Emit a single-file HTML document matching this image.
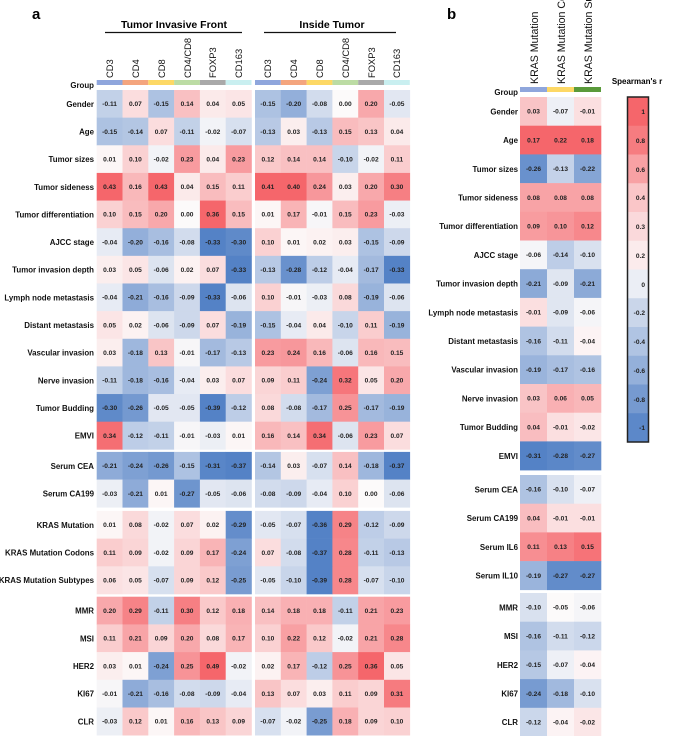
<!DOCTYPE html>
<html><head><meta charset="utf-8"><style>
body{margin:0;background:#fff}
svg{display:block;font-family:"Liberation Sans",Arial,sans-serif}
.v{font-size:6.6px;font-weight:bold;fill:#222;text-anchor:middle}
.lab{font-size:7.9px;font-weight:bold;fill:#111;text-anchor:end}
.hd{font-size:9.4px;fill:#111}
</style></head><body>
<svg id="s" width="689" height="736" viewBox="0 0 689 736">
<text x="32" y="19" style="font-size:15px;font-weight:bold">a</text>
<text x="447" y="19" style="font-size:15px;font-weight:bold">b</text>
<text x="174" y="28" style="font-size:10.5px;font-weight:bold;text-anchor:middle">Tumor Invasive Front</text>
<line x1="105" y1="32.5" x2="242" y2="32.5" stroke="#111" stroke-width="1.2"/>
<text x="332" y="28" style="font-size:10.5px;font-weight:bold;text-anchor:middle">Inside Tumor</text>
<line x1="264" y1="32.5" x2="396" y2="32.5" stroke="#111" stroke-width="1.2"/>
<g id="bars"></g>
<g class="hd">
<text transform="translate(113,78) rotate(-90)">CD3</text>
<text transform="translate(139,78) rotate(-90)">CD4</text>
<text transform="translate(165,78) rotate(-90)">CD8</text>
<text transform="translate(191,78) rotate(-90)">CD4/CD8</text>
<text transform="translate(216,78) rotate(-90)">FOXP3</text>
<text transform="translate(242,78) rotate(-90)">CD163</text>
<text transform="translate(271,78) rotate(-90)">CD3</text>
<text transform="translate(297,78) rotate(-90)">CD4</text>
<text transform="translate(323,78) rotate(-90)">CD8</text>
<text transform="translate(349,78) rotate(-90)">CD4/CD8</text>
<text transform="translate(375,78) rotate(-90)">FOXP3</text>
<text transform="translate(400,78) rotate(-90)">CD163</text>
<text transform="translate(538,84) rotate(-90)" style="font-size:10.6px">KRAS Mutation</text>
<text transform="translate(565,84) rotate(-90)" style="font-size:10.6px">KRAS Mutation Codons</text>
<text transform="translate(592,84) rotate(-90)" style="font-size:10.6px">KRAS Mutation Subtypes</text>
</g>
<text class="lab" x="94" y="88">Group</text>
<text class="lab" x="518" y="95">Group</text>
<text x="637" y="84" style="font-size:8px;font-weight:bold;text-anchor:middle">Spearman's r</text>
<g id="cells"></g>
<g id="A">
<g><text class="lab">Gender</text><text class="v">-0.11</text><text class="v">0.07</text><text class="v">-0.15</text><text class="v">0.14</text><text class="v">0.04</text><text class="v">0.05</text><text class="v">-0.15</text><text class="v">-0.20</text><text class="v">-0.08</text><text class="v">0.00</text><text class="v">0.20</text><text class="v">-0.05</text></g>
<g><text class="lab">Age</text><text class="v">-0.15</text><text class="v">-0.14</text><text class="v">0.07</text><text class="v">-0.11</text><text class="v">-0.02</text><text class="v">-0.07</text><text class="v">-0.13</text><text class="v">0.03</text><text class="v">-0.13</text><text class="v">0.15</text><text class="v">0.13</text><text class="v">0.04</text></g>
<g><text class="lab">Tumor sizes</text><text class="v">0.01</text><text class="v">0.10</text><text class="v">-0.02</text><text class="v">0.23</text><text class="v">0.04</text><text class="v">0.23</text><text class="v">0.12</text><text class="v">0.14</text><text class="v">0.14</text><text class="v">-0.10</text><text class="v">-0.02</text><text class="v">0.11</text></g>
<g><text class="lab">Tumor sideness</text><text class="v">0.43</text><text class="v">0.16</text><text class="v">0.43</text><text class="v">0.04</text><text class="v">0.15</text><text class="v">0.11</text><text class="v">0.41</text><text class="v">0.40</text><text class="v">0.24</text><text class="v">0.03</text><text class="v">0.20</text><text class="v">0.30</text></g>
<g><text class="lab">Tumor differentiation</text><text class="v">0.10</text><text class="v">0.15</text><text class="v">0.20</text><text class="v">0.00</text><text class="v">0.36</text><text class="v">0.15</text><text class="v">0.01</text><text class="v">0.17</text><text class="v">-0.01</text><text class="v">0.15</text><text class="v">0.23</text><text class="v">-0.03</text></g>
<g><text class="lab">AJCC stage</text><text class="v">-0.04</text><text class="v">-0.20</text><text class="v">-0.16</text><text class="v">-0.08</text><text class="v">-0.33</text><text class="v">-0.30</text><text class="v">0.10</text><text class="v">0.01</text><text class="v">0.02</text><text class="v">0.03</text><text class="v">-0.15</text><text class="v">-0.09</text></g>
<g><text class="lab">Tumor invasion depth</text><text class="v">0.03</text><text class="v">0.05</text><text class="v">-0.06</text><text class="v">0.02</text><text class="v">0.07</text><text class="v">-0.33</text><text class="v">-0.13</text><text class="v">-0.28</text><text class="v">-0.12</text><text class="v">-0.04</text><text class="v">-0.17</text><text class="v">-0.33</text></g>
<g><text class="lab">Lymph node metastasis</text><text class="v">-0.04</text><text class="v">-0.21</text><text class="v">-0.16</text><text class="v">-0.09</text><text class="v">-0.33</text><text class="v">-0.06</text><text class="v">0.10</text><text class="v">-0.01</text><text class="v">-0.03</text><text class="v">0.08</text><text class="v">-0.19</text><text class="v">-0.06</text></g>
<g><text class="lab">Distant metastasis</text><text class="v">0.05</text><text class="v">0.02</text><text class="v">-0.06</text><text class="v">-0.09</text><text class="v">0.07</text><text class="v">-0.19</text><text class="v">-0.15</text><text class="v">-0.04</text><text class="v">0.04</text><text class="v">-0.10</text><text class="v">0.11</text><text class="v">-0.19</text></g>
<g><text class="lab">Vascular invasion</text><text class="v">0.03</text><text class="v">-0.18</text><text class="v">0.13</text><text class="v">-0.01</text><text class="v">-0.17</text><text class="v">-0.13</text><text class="v">0.23</text><text class="v">0.24</text><text class="v">0.16</text><text class="v">-0.06</text><text class="v">0.16</text><text class="v">0.15</text></g>
<g><text class="lab">Nerve invasion</text><text class="v">-0.11</text><text class="v">-0.18</text><text class="v">-0.16</text><text class="v">-0.04</text><text class="v">0.03</text><text class="v">0.07</text><text class="v">0.09</text><text class="v">0.11</text><text class="v">-0.24</text><text class="v">0.32</text><text class="v">0.05</text><text class="v">0.20</text></g>
<g><text class="lab">Tumor Budding</text><text class="v">-0.30</text><text class="v">-0.26</text><text class="v">-0.05</text><text class="v">-0.05</text><text class="v">-0.39</text><text class="v">-0.12</text><text class="v">0.08</text><text class="v">-0.08</text><text class="v">-0.17</text><text class="v">0.25</text><text class="v">-0.17</text><text class="v">-0.19</text></g>
<g><text class="lab">EMVI</text><text class="v">0.34</text><text class="v">-0.12</text><text class="v">-0.11</text><text class="v">-0.01</text><text class="v">-0.03</text><text class="v">0.01</text><text class="v">0.16</text><text class="v">0.14</text><text class="v">0.34</text><text class="v">-0.06</text><text class="v">0.23</text><text class="v">0.07</text></g>
<g><text class="lab">Serum CEA</text><text class="v">-0.21</text><text class="v">-0.24</text><text class="v">-0.26</text><text class="v">-0.15</text><text class="v">-0.31</text><text class="v">-0.37</text><text class="v">-0.14</text><text class="v">0.03</text><text class="v">-0.07</text><text class="v">0.14</text><text class="v">-0.18</text><text class="v">-0.37</text></g>
<g><text class="lab">Serum CA199</text><text class="v">-0.03</text><text class="v">-0.21</text><text class="v">0.01</text><text class="v">-0.27</text><text class="v">-0.05</text><text class="v">-0.06</text><text class="v">-0.08</text><text class="v">-0.09</text><text class="v">-0.04</text><text class="v">0.10</text><text class="v">0.00</text><text class="v">-0.06</text></g>
<g><text class="lab">KRAS Mutation</text><text class="v">0.01</text><text class="v">0.08</text><text class="v">-0.02</text><text class="v">0.07</text><text class="v">0.02</text><text class="v">-0.29</text><text class="v">-0.05</text><text class="v">-0.07</text><text class="v">-0.36</text><text class="v">0.29</text><text class="v">-0.12</text><text class="v">-0.09</text></g>
<g><text class="lab">KRAS Mutation Codons</text><text class="v">0.11</text><text class="v">0.09</text><text class="v">-0.02</text><text class="v">0.09</text><text class="v">0.17</text><text class="v">-0.24</text><text class="v">0.07</text><text class="v">-0.08</text><text class="v">-0.37</text><text class="v">0.28</text><text class="v">-0.11</text><text class="v">-0.13</text></g>
<g><text class="lab">KRAS Mutation Subtypes</text><text class="v">0.06</text><text class="v">0.05</text><text class="v">-0.07</text><text class="v">0.09</text><text class="v">0.12</text><text class="v">-0.25</text><text class="v">-0.05</text><text class="v">-0.10</text><text class="v">-0.39</text><text class="v">0.28</text><text class="v">-0.07</text><text class="v">-0.10</text></g>
<g><text class="lab">MMR</text><text class="v">0.20</text><text class="v">0.29</text><text class="v">-0.11</text><text class="v">0.30</text><text class="v">0.12</text><text class="v">0.18</text><text class="v">0.14</text><text class="v">0.18</text><text class="v">0.18</text><text class="v">-0.11</text><text class="v">0.21</text><text class="v">0.23</text></g>
<g><text class="lab">MSI</text><text class="v">0.11</text><text class="v">0.21</text><text class="v">0.09</text><text class="v">0.20</text><text class="v">0.08</text><text class="v">0.17</text><text class="v">0.10</text><text class="v">0.22</text><text class="v">0.12</text><text class="v">-0.02</text><text class="v">0.21</text><text class="v">0.28</text></g>
<g><text class="lab">HER2</text><text class="v">0.03</text><text class="v">0.01</text><text class="v">-0.24</text><text class="v">0.25</text><text class="v">0.49</text><text class="v">-0.02</text><text class="v">0.02</text><text class="v">0.17</text><text class="v">-0.12</text><text class="v">0.25</text><text class="v">0.36</text><text class="v">0.05</text></g>
<g><text class="lab">KI67</text><text class="v">-0.01</text><text class="v">-0.21</text><text class="v">-0.16</text><text class="v">-0.08</text><text class="v">-0.09</text><text class="v">-0.04</text><text class="v">0.13</text><text class="v">0.07</text><text class="v">0.03</text><text class="v">0.11</text><text class="v">0.09</text><text class="v">0.31</text></g>
<g><text class="lab">CLR</text><text class="v">-0.03</text><text class="v">0.12</text><text class="v">0.01</text><text class="v">0.16</text><text class="v">0.13</text><text class="v">0.09</text><text class="v">-0.07</text><text class="v">-0.02</text><text class="v">-0.25</text><text class="v">0.18</text><text class="v">0.09</text><text class="v">0.10</text></g>
</g>
<g id="B">
<g><text class="lab">Gender</text><text class="v">0.03</text><text class="v">-0.07</text><text class="v">-0.01</text></g>
<g><text class="lab">Age</text><text class="v">0.17</text><text class="v">0.22</text><text class="v">0.18</text></g>
<g><text class="lab">Tumor sizes</text><text class="v">-0.26</text><text class="v">-0.13</text><text class="v">-0.22</text></g>
<g><text class="lab">Tumor sideness</text><text class="v">0.08</text><text class="v">0.08</text><text class="v">0.08</text></g>
<g><text class="lab">Tumor differentiation</text><text class="v">0.09</text><text class="v">0.10</text><text class="v">0.12</text></g>
<g><text class="lab">AJCC stage</text><text class="v">-0.06</text><text class="v">-0.14</text><text class="v">-0.10</text></g>
<g><text class="lab">Tumor invasion depth</text><text class="v">-0.21</text><text class="v">-0.09</text><text class="v">-0.21</text></g>
<g><text class="lab">Lymph node metastasis</text><text class="v">-0.01</text><text class="v">-0.09</text><text class="v">-0.06</text></g>
<g><text class="lab">Distant metastasis</text><text class="v">-0.16</text><text class="v">-0.11</text><text class="v">-0.04</text></g>
<g><text class="lab">Vascular invasion</text><text class="v">-0.19</text><text class="v">-0.17</text><text class="v">-0.16</text></g>
<g><text class="lab">Nerve invasion</text><text class="v">0.03</text><text class="v">0.06</text><text class="v">0.05</text></g>
<g><text class="lab">Tumor Budding</text><text class="v">0.04</text><text class="v">-0.01</text><text class="v">-0.02</text></g>
<g><text class="lab">EMVI</text><text class="v">-0.31</text><text class="v">-0.28</text><text class="v">-0.27</text></g>
<g><text class="lab">Serum CEA</text><text class="v">-0.16</text><text class="v">-0.10</text><text class="v">-0.07</text></g>
<g><text class="lab">Serum CA199</text><text class="v">0.04</text><text class="v">-0.01</text><text class="v">-0.01</text></g>
<g><text class="lab">Serum IL6</text><text class="v">0.11</text><text class="v">0.13</text><text class="v">0.15</text></g>
<g><text class="lab">Serum IL10</text><text class="v">-0.19</text><text class="v">-0.27</text><text class="v">-0.27</text></g>
<g><text class="lab">MMR</text><text class="v">-0.10</text><text class="v">-0.05</text><text class="v">-0.06</text></g>
<g><text class="lab">MSI</text><text class="v">-0.16</text><text class="v">-0.11</text><text class="v">-0.12</text></g>
<g><text class="lab">HER2</text><text class="v">-0.15</text><text class="v">-0.07</text><text class="v">-0.04</text></g>
<g><text class="lab">KI67</text><text class="v">-0.24</text><text class="v">-0.18</text><text class="v">-0.10</text></g>
<g><text class="lab">CLR</text><text class="v">-0.12</text><text class="v">-0.04</text><text class="v">-0.02</text></g>
</g>
<g id="cb">
<text class="v" x="645" y="114" style="text-anchor:end">1</text>
<text class="v" x="645" y="143" style="text-anchor:end">0.8</text>
<text class="v" x="645" y="172" style="text-anchor:end">0.6</text>
<text class="v" x="645" y="200" style="text-anchor:end">0.4</text>
<text class="v" x="645" y="229" style="text-anchor:end">0.3</text>
<text class="v" x="645" y="258" style="text-anchor:end">0.2</text>
<text class="v" x="645" y="287" style="text-anchor:end">0</text>
<text class="v" x="645" y="315" style="text-anchor:end">-0.2</text>
<text class="v" x="645" y="344" style="text-anchor:end">-0.4</text>
<text class="v" x="645" y="373" style="text-anchor:end">-0.6</text>
<text class="v" x="645" y="402" style="text-anchor:end">-0.8</text>
<text class="v" x="645" y="430" style="text-anchor:end">-1</text>
</g>
</svg>
<script>
(function(){
var NS="http://www.w3.org/2000/svg";
var cells=document.getElementById("cells"),bars=document.getElementById("bars");
function rect(p,x,y,w,h,f){var r=document.createElementNS(NS,"rect");r.setAttribute("x",x);r.setAttribute("y",y);r.setAttribute("width",w);r.setAttribute("height",h);r.setAttribute("fill",f);p.appendChild(r);return r;}
var W=[252,250,250],R=[245,102,107],B=[84,130,198];
function mix(t,c){t=Math.max(0,Math.min(1,t));return "rgb("+[0,1,2].map(function(i){return Math.round(W[i]+(c[i]-W[i])*t)}).join(",")+")";}
function colA(v){return v>=0?mix(v/0.36,R):mix(-v/0.32,B);}
function colB(v){return v>=-0.05?mix((v+0.05)/0.22,R):mix((-0.05-v)/0.24,B);}
var ca=["#8fa6dc","#f4a57e","#fdd865","#bcdca4","#a9a9a9","#c9eff0"];
for(var i=0;i<6;i++){rect(bars,96.7+i*25.8,80,25.8,5,ca[i]);rect(bars,255+i*25.8,80,25.8,5,ca[i]);}
var cb=["#8fa6dc","#fdd865","#5a9a3a"];
for(i=0;i<3;i++)rect(bars,520+i*27,87,27,5,cb[i]);
function rowTopA(i){if(i<13)return 90+27.64*i;if(i<15)return 451.9+27.7*(i-13);if(i<18)return 510.9+27.7*(i-15);return 596.7+27.7*(i-18);}
function rowTopB(i){if(i<13)return 97+28.7*i;if(i<17)return 475+28.7*(i-13);return 593+28.7*(i-17);}
var rows=document.getElementById("A").children;
for(i=0;i<rows.length;i++){var t=rows[i].children,y=rowTopA(i),h=27.7;
 t[0].setAttribute("x",94);t[0].setAttribute("y",y+h/2+3);
 for(var j=1;j<t.length;j++){var k=j-1,x=(k<6?96.7:255-6*25.8)+k*25.8,v=parseFloat(t[j].textContent);
  rect(cells,x,y,25.8+0.3,h+0.3,colA(v));t[j].setAttribute("x",x+12.9);t[j].setAttribute("y",y+h/2+2.3);}}
rows=document.getElementById("B").children;
for(i=0;i<rows.length;i++){var t=rows[i].children,y=rowTopB(i),h=28.7;
 t[0].setAttribute("x",518);t[0].setAttribute("y",y+h/2+3);
 for(var j=1;j<t.length;j++){var x=520+(j-1)*27,v=parseFloat(t[j].textContent);
  rect(cells,x,y,27.3,h+0.3,colB(v));t[j].setAttribute("x",x+13.5);t[j].setAttribute("y",y+h/2+2.3);}}
var cv=[1,0.8,0.6,0.4,0.3,0.2,0,-0.2,-0.4,-0.6,-0.8,-1];
var ct=[1,0.85,0.6,0.35,0.22,0.1,0.1,0.3,0.45,0.62,0.8,0.95];
for(i=0;i<12;i++){rect(cells,627.5,97+i*28.75,21,29,cv[i]>0?mix(ct[i],R):mix(ct[i],B));}
var fr=rect(cells,627.5,97,21,345,"none");fr.setAttribute("stroke","#222");fr.setAttribute("stroke-width","1.5");
})();
</script>
</body></html>
